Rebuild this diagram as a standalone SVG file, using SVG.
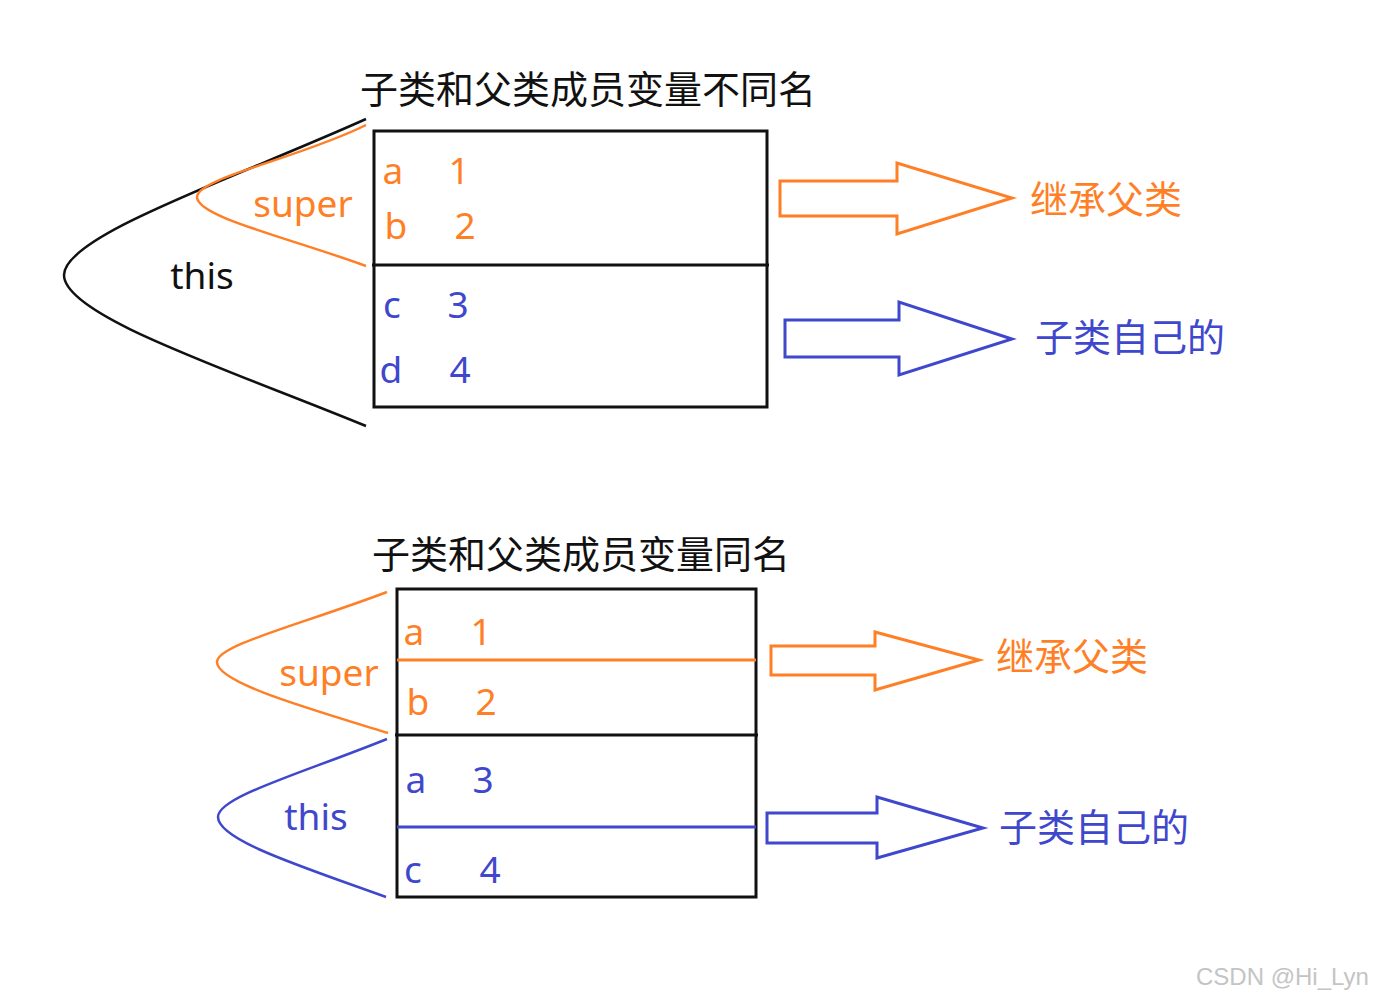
<svg xmlns="http://www.w3.org/2000/svg" width="1376" height="999" viewBox="0 0 1376 999">
<style>
.cjk{font-family:"Noto Sans CJK SC","Noto Sans",sans-serif;font-size:38px}
.lat{font-family:"Noto Sans","Open Sans",sans-serif;font-size:37px;text-anchor:middle}
.blk{fill:#111}
.org{fill:#FF7F27}
.ind{fill:#3F48CC}
.box{fill:none;stroke:#111;stroke-width:3}
.so{fill:none;stroke:#FF7F27;stroke-width:2.5}
.sb{fill:none;stroke:#3F48CC;stroke-width:2.5}
.sk{fill:none;stroke:#111;stroke-width:2.5}
.wm{font-family:"Liberation Sans",Arial,sans-serif;font-size:24px;fill:#c4c4c4}
</style>
<rect width="1376" height="999" fill="#fff"/>

<g id="title-top"><text class="cjk blk" x="360" y="103">子类和父类成员变量不同名</text></g>
<g id="box-top">
<rect class="box" x="374" y="131" width="393" height="276"/>
<line class="box" x1="372" y1="265" x2="769" y2="265"/>
<text class="lat org" x="393" y="184">a</text>
<text class="lat org" x="459" y="184">1</text>
<text class="lat org" x="396" y="239">b</text>
<text class="lat org" x="465" y="239">2</text>
<text class="lat ind" x="392" y="318">c</text>
<text class="lat ind" x="458" y="318">3</text>
<text class="lat ind" x="391" y="383">d</text>
<text class="lat ind" x="460" y="383">4</text>
</g>
<g id="label-this-top"><text class="lat blk" x="202" y="289">this</text></g>
<g id="label-super-top"><text class="lat org" x="303" y="217">super</text></g>
<g id="label-inherit-top"><text class="cjk org" x="1030" y="213">继承父类</text></g>
<g id="label-own-top"><text class="cjk ind" x="1035" y="351">子类自己的</text></g>

<g id="title-bottom"><text class="cjk blk" x="372" y="568">子类和父类成员变量同名</text></g>
<g id="box-bottom">
<rect class="box" x="397" y="589" width="359" height="308"/>
<line class="so" x1="397" y1="660" x2="756" y2="660" style="stroke-width:3"/>
<line class="box" x1="395" y1="735" x2="758" y2="735"/>
<line class="sb" x1="397" y1="827" x2="756" y2="827" style="stroke-width:3"/>
<text class="lat org" x="414" y="645">a</text>
<text class="lat org" x="481" y="645">1</text>
<text class="lat org" x="418" y="715">b</text>
<text class="lat org" x="486" y="715">2</text>
<text class="lat ind" x="416" y="793">a</text>
<text class="lat ind" x="483" y="793">3</text>
<text class="lat ind" x="413" y="883">c</text>
<text class="lat ind" x="490" y="883">4</text>
</g>
<g id="label-super-bottom"><text class="lat org" x="329" y="686">super</text></g>
<g id="label-this-bottom"><text class="lat ind" x="316" y="830">this</text></g>
<g id="label-inherit-bottom"><text class="cjk org" x="996" y="670">继承父类</text></g>
<g id="label-own-bottom"><text class="cjk ind" x="999" y="841">子类自己的</text></g>

<g id="connectors">
<path class="sk" d="M366,119 C230,180 64,236 64,275 C64,316 230,370 366,426"/>
<path class="so" d="M366,125 C300,158 197,178 197,197 C197,217 290,238 366,266"/>
<path class="so" d="M387,592 C300,625 217,645 217,662 C217,682 300,706 388,733"/>
<path class="sb" d="M387,739 C300,774 218,797 218,817 C218,840 300,866 386,897"/>
<polygon class="so" style="stroke-width:3" points="780,181 897,181 897,163 1012,198 897,234 897,216 780,216"/>
<polygon class="sb" style="stroke-width:3" points="785,320 899,320 899,302 1012,339 899,375 899,357 785,357"/>
<polygon class="so" style="stroke-width:3" points="771,646 875,646 875,632 979,660 875,690 875,675 771,675"/>
<polygon class="sb" style="stroke-width:3" points="767,813 877,813 877,797 983,828 877,858 877,843 767,843"/>
</g>

<g id="watermark"><text class="wm" x="1196" y="985">CSDN @Hi_Lyn</text></g>
</svg>
